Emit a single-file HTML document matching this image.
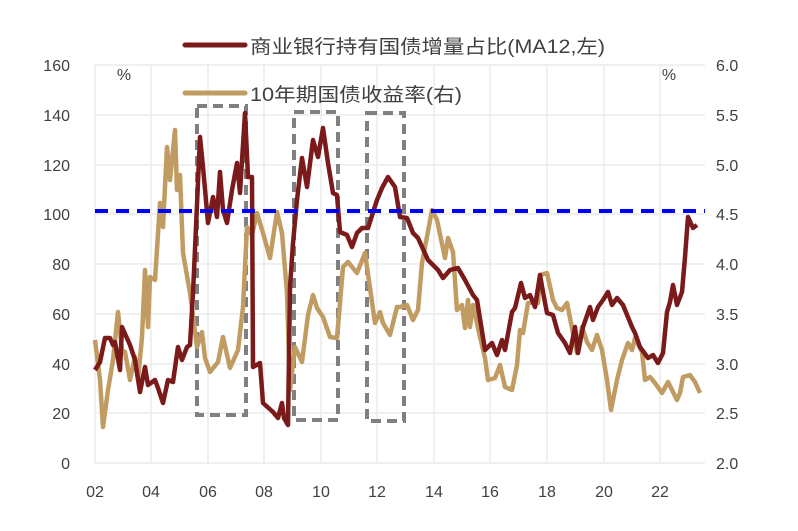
<!DOCTYPE html>
<html><head><meta charset="utf-8"><style>
html,body{margin:0;padding:0;background:#fff;}
svg{display:block;font-family:"Liberation Sans","Noto Sans CJK SC",sans-serif;}
</style></head><body>
<svg width="798" height="531" viewBox="0 0 798 531">
<g stroke="#ececec" stroke-width="1.5">
<line x1="95" y1="65" x2="705" y2="65"/><line x1="95" y1="115" x2="705" y2="115"/><line x1="95" y1="165" x2="705" y2="165"/><line x1="95" y1="214" x2="705" y2="214"/><line x1="95" y1="264" x2="705" y2="264"/><line x1="95" y1="314" x2="705" y2="314"/><line x1="95" y1="364" x2="705" y2="364"/><line x1="95" y1="413" x2="705" y2="413"/><line x1="95" y1="463" x2="705" y2="463"/>
<line x1="95" y1="65" x2="95" y2="463"/><line x1="151" y1="65" x2="151" y2="463"/><line x1="208" y1="65" x2="208" y2="463"/><line x1="264" y1="65" x2="264" y2="463"/><line x1="321" y1="65" x2="321" y2="463"/><line x1="377" y1="65" x2="377" y2="463"/><line x1="434" y1="65" x2="434" y2="463"/><line x1="490" y1="65" x2="490" y2="463"/><line x1="547" y1="65" x2="547" y2="463"/><line x1="604" y1="65" x2="604" y2="463"/><line x1="660" y1="65" x2="660" y2="463"/>
</g>
<g fill="#404040" font-size="16">
<g text-anchor="end"><text x="70" y="71">160</text><text x="70" y="121">140</text><text x="70" y="171">120</text><text x="70" y="220">100</text><text x="70" y="270">80</text><text x="70" y="320">60</text><text x="70" y="370">40</text><text x="70" y="419">20</text><text x="70" y="469">0</text></g>
<g text-anchor="start"><text x="716" y="71">6.0</text><text x="716" y="121">5.5</text><text x="716" y="171">5.0</text><text x="716" y="220">4.5</text><text x="716" y="270">4.0</text><text x="716" y="320">3.5</text><text x="716" y="370">3.0</text><text x="716" y="419">2.5</text><text x="716" y="469">2.0</text></g>
<g text-anchor="middle"><text x="95" y="497">02</text><text x="151" y="497">04</text><text x="208" y="497">06</text><text x="264" y="497">08</text><text x="321" y="497">10</text><text x="377" y="497">12</text><text x="434" y="497">14</text><text x="490" y="497">16</text><text x="547" y="497">18</text><text x="604" y="497">20</text><text x="660" y="497">22</text></g>
<text x="124" y="80" text-anchor="middle">%</text><text x="669" y="80" text-anchor="middle">%</text>
<text x="250" y="53" font-size="19" textLength="355" lengthAdjust="spacingAndGlyphs">商业银行持有国债增量占比(MA12,左)</text>
<text x="250" y="101" font-size="19" textLength="212" lengthAdjust="spacingAndGlyphs">10年期国债收益率(右)</text>
</g>
<line x1="185" y1="45" x2="245" y2="45" stroke="#7b1a1a" stroke-width="5" stroke-linecap="round"/>
<line x1="185" y1="93" x2="245" y2="93" stroke="#c19c62" stroke-width="5" stroke-linecap="round"/>
<g fill="none" stroke="#808080" stroke-width="4" stroke-dasharray="10,6">
<rect x="197" y="106" width="49" height="309"/>
<rect x="294" y="112" width="44" height="308"/>
<rect x="367" y="113" width="37" height="308"/>
</g>
<polyline fill="none" stroke="#c19c62" stroke-width="4.5" stroke-linejoin="round" points="95,340 100,380 103,427 108,390 113,360 118,312 122,350 125,352 130,380 135,357 138,380 142,337 145,270 148,327 150,277 155,280 160,203 163,227 167,147 170,180 175,130 177,190 180,175 183,253 190,293 197,347 202,332 205,358 210,372 218,362 223,337 230,368 238,350 243,307 247,227 252,235 257,213 263,233 270,258 277,212 282,233 287,293 290,390 295,347 302,362 308,315 313,295 317,308 323,317 330,337 337,338 343,267 348,262 357,273 365,253 375,323 380,312 383,323 390,335 397,307 400,307 407,305 413,320 418,310 422,263 432,210 437,220 445,258 448,238 453,252 457,310 462,305 465,328 468,300 470,327 473,305 480,337 485,358 488,380 495,378 500,365 505,387 512,390 517,365 520,330 523,333 528,303 535,302 538,303 540,275 547,273 553,300 557,308 562,310 567,303 572,328 577,353 582,327 587,342 592,350 597,335 602,350 607,380 611,410 617,380 622,360 628,343 632,350 635,338 642,352 645,380 650,377 655,383 662,393 668,382 672,390 677,400 680,393 683,377 690,375 695,382 700,393"/>
<polyline fill="none" stroke="#7b1a1a" stroke-width="4.5" stroke-linejoin="round" points="95,370 100,362 105,338 110,338 113,345 115,342 120,370 122,327 130,345 135,360 140,392 145,367 148,385 155,380 158,388 163,403 168,380 173,382 178,347 182,360 187,347 190,345 193,293 196,227 200,137 203,167 208,223 213,197 217,217 220,172 223,210 227,223 232,190 237,163 240,193 245,113 248,177 252,177 253,367 260,363 263,403 273,412 278,418 282,403 284,418 288,425 290,287 293,243 297,200 302,158 307,187 313,140 318,157 323,128 328,163 333,193 337,195 340,232 347,235 352,247 357,233 362,228 368,228 377,200 382,188 388,177 395,187 400,217 407,218 413,233 418,238 428,260 438,270 443,278 450,270 458,268 465,280 473,295 477,300 485,350 492,343 497,355 502,340 505,350 512,312 515,308 521,283 525,298 530,295 535,307 540,275 543,292 547,313 553,315 558,333 565,343 570,353 575,327 578,353 583,327 590,307 593,320 598,307 603,300 608,292 612,305 617,298 623,305 632,327 635,333 640,347 648,358 653,355 658,363 663,353 667,312 670,302 673,285 677,305 682,292 685,257 688,217 693,228 697,225"/>
<line x1="95" y1="211" x2="705" y2="211" stroke="#0000ff" stroke-width="4" stroke-dasharray="13,8"/>
</svg>
</body></html>
